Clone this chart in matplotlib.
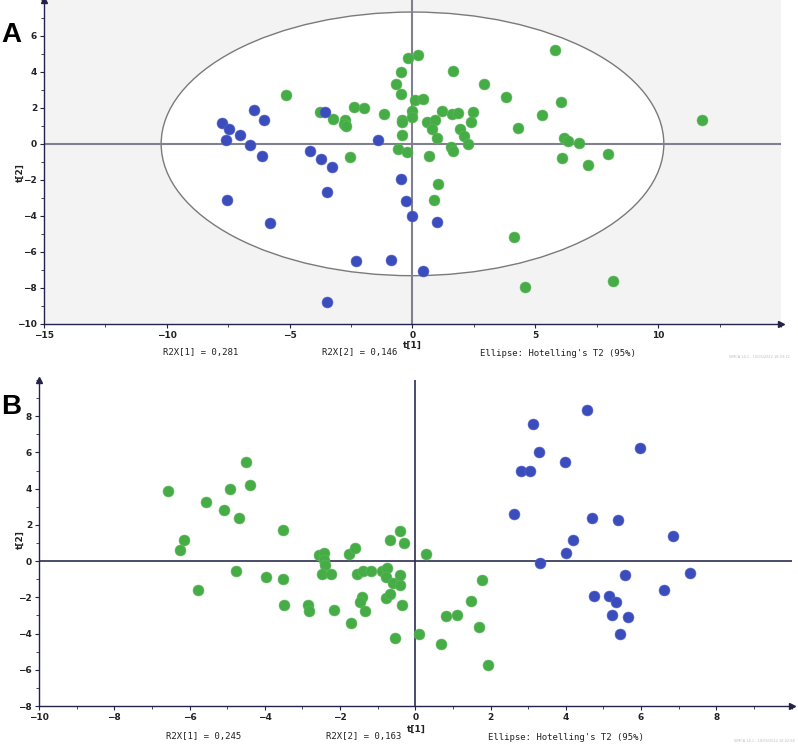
import numpy as np
import matplotlib
matplotlib.use("Agg")
import matplotlib.pyplot as plt
from matplotlib.patches import Ellipse
from matplotlib.ticker import MultipleLocator

# PANEL A scores (t[1], t[2])
a_blue_x = [-7.76, -7.45, -7.60, -7.02, -6.45, -6.04, -6.61, -6.14, -4.17, -3.73, -3.26, -3.58,
            -1.40, -7.54, -5.81, -3.46, -2.29, -0.88, -3.46, -0.45, -0.27, -0.03, 0.98, 0.41]
a_blue_y = [1.17, 0.81, 0.22, 0.50, 1.89, 1.31, -0.09, -0.70, -0.39, -0.85, -1.26, 1.76,
            0.22, -3.13, -4.41, -2.70, -6.50, -6.46, -8.80, -1.96, -3.19, -4.02, -4.33, -7.07]
a_green_x = [-5.15, -3.78, -3.25, -2.73, -2.80, -2.69, -2.38, -1.97, -1.15, -2.55, -0.18, 0.24,
             -0.48, -0.68, -0.45, 0.12, 0.41, -0.01, -0.01, -0.44, -0.41, -0.42, -0.57, -0.23,
             0.67, 1.63, 2.91, 3.79, 4.29, 1.19, 1.60, 1.86, 2.47, 2.40, 0.60, 0.90, 0.81, 0.98,
             1.93, 2.09, 2.25, 1.55, 1.64, 5.80, 6.06, 5.27, 6.15, 6.33, 6.78, 7.97, 6.10, 7.13,
             11.77, 1.03, 0.88, 4.13, 4.60, 8.17]
a_green_y = [2.71, 1.76, 1.41, 1.35, 1.09, 1.02, 2.04, 2.02, 1.65, -0.73, 4.80, 4.96,
             4.02, 3.31, 2.76, 2.43, 2.50, 1.85, 1.50, 1.31, 1.20, 0.48, -0.31, -0.43,
             -0.70, 4.04, 3.33, 2.63, 0.91, 1.80, 1.67, 1.74, 1.76, 1.19, 1.24, 1.33, 0.81, 0.35,
             0.81, 0.44, 0.02, -0.17, -0.42, 5.20, 2.33, 1.59, 0.31, 0.15, 0.04, -0.56, -0.81, -1.15,
             1.31, -2.22, -3.11, -5.19, -7.96, -7.61]

# PANEL B scores
b_blue_x = [4.57, 3.12, 3.29, 5.98, 3.98, 2.81, 3.04, 2.61, 4.69, 5.39, 6.84, 4.20, 4.00, 3.31,
            5.56, 7.30, 6.62, 4.76, 5.14, 5.33, 5.23, 5.65, 5.44]
b_blue_y = [8.37, 7.56, 6.02, 6.24, 5.49, 4.98, 4.98, 2.58, 2.38, 2.29, 1.37, 1.15, 0.47, -0.13,
            -0.77, -0.66, -1.59, -1.92, -1.92, -2.24, -3.00, -3.08, -4.03]
b_green_x = [-6.57, -6.25, -6.16, -5.56, -5.09, -4.92, -4.69, -4.50, -4.39, -3.52, -2.56, -2.42,
             -2.44, -2.41, -1.77, -1.60, -0.66, -0.42, -0.29, -4.77, -5.77, -3.97, -3.52, -3.49,
             -2.86, -2.83, -2.16, -2.49, -2.23, -1.71, -1.55, -1.40, -1.19, -1.43, -1.47, -1.33,
             -0.89, -0.74, -0.77, -0.58, -0.42, -0.78, -0.68, -0.53, -0.40, -0.36, 0.28, 0.10,
             0.67, 0.82, 1.10, 1.49, 1.76, 1.68, 1.94]
b_green_y = [3.86, 0.64, 1.17, 3.26, 2.84, 3.97, 2.40, 5.49, 4.23, 1.72, 0.36, 0.47,
             0.05, -0.24, 0.42, 0.73, 1.17, 1.65, 1.02, -0.57, -1.61, -0.85, -0.97, -2.40,
             -2.44, -2.75, -2.71, -0.70, -0.73, -3.41, -0.73, -0.57, -0.57, -2.00, -2.25, -2.73,
             -0.57, -0.37, -0.90, -1.23, -1.30, -2.02, -1.83, -4.25, -0.79, -2.43, 0.38, -4.02,
             -4.60, -3.02, -2.97, -2.20, -1.04, -3.66, -5.75]

r2x_a = ["0,281", "0,146"]
r2x_b = ["0,245", "0,163"]
ellipse_a = (10.23, 7.33)  # semi axes of Hotelling's T2 ellipse

BLUE = "#3b4dbd"
GREEN = "#46ac46"
AXC = "#23234a"

fig = plt.figure(figsize=(7.98, 7.45), dpi=100)


def style_axes(ax, xmaj, xmin, ymaj, ymin):
    for s in ["top", "right"]:
        ax.spines[s].set_visible(False)
    for s in ["left", "bottom"]:
        ax.spines[s].set_color(AXC)
        ax.spines[s].set_linewidth(1.0)
    ax.xaxis.set_major_locator(MultipleLocator(xmaj))
    ax.xaxis.set_minor_locator(MultipleLocator(xmin))
    ax.yaxis.set_major_locator(MultipleLocator(ymaj))
    ax.yaxis.set_minor_locator(MultipleLocator(ymin))
    ax.tick_params(which="both", colors=AXC, labelcolor="#222222", labelsize=6.5, direction="out", pad=2)
    ax.tick_params(which="major", length=3, width=0.8)
    ax.tick_params(which="minor", length=2, width=0.6)
    # arrow heads
    ax.plot(0, 1, marker="^", color=AXC, ms=4, transform=ax.transAxes, clip_on=False)
    ax.plot(1, 0, marker=">", color=AXC, ms=4, transform=ax.transAxes, clip_on=False)


# ---------- A ----------
axA = fig.add_axes([0.0551, 0.5655, 0.9236, 0.4345])
axA.set_facecolor("#f3f3f3")
axA.set_xlim(-15, 15)
axA.set_ylim(-10, 8)
axA.add_patch(Ellipse((0, 0), 2 * ellipse_a[0], 2 * ellipse_a[1], facecolor="white",
                      edgecolor="#7a7a7a", lw=1.0, zorder=1))
axA.axhline(0, color="#80808e", lw=1.5, zorder=2)
axA.axvline(0, color="#80808e", lw=1.5, zorder=2)
axA.scatter(a_green_x, a_green_y, s=62, color=GREEN, edgecolors="#5fb85f", linewidths=0.4, zorder=3)
axA.scatter(a_blue_x, a_blue_y, s=62, color=BLUE, edgecolors="#5566c8", linewidths=0.4, zorder=4)
style_axes(axA, 5, 2.5, 2, 1)
axA.set_xticks([-15, -10, -5, 0, 5, 10])
axA.set_yticks([-10, -8, -6, -4, -2, 0, 2, 4, 6])
for lab in axA.get_xticklabels() + axA.get_yticklabels():
    lab.set_fontweight("bold")

# ---------- B ----------
axB = fig.add_axes([0.0489, 0.0523, 0.9431, 0.4376])
axB.set_xlim(-10, 10)
axB.set_ylim(-8, 10)
axB.axhline(0, color="#2c2c54", lw=1.2, zorder=2)
axB.axvline(0, color="#2c2c54", lw=1.2, zorder=2)
axB.scatter(b_green_x, b_green_y, s=62, color=GREEN, edgecolors="#5fb85f", linewidths=0.4, zorder=3)
axB.scatter(b_blue_x, b_blue_y, s=62, color=BLUE, edgecolors="#5566c8", linewidths=0.4, zorder=4)
style_axes(axB, 2, 1, 2, 1)
axB.set_xticks([-10, -8, -6, -4, -2, 0, 2, 4, 6, 8])
axB.set_yticks([-8, -6, -4, -2, 0, 2, 4, 6, 8])
for lab in axB.get_xticklabels() + axB.get_yticklabels():
    lab.set_fontweight("bold")

# texts (figure pixel coordinates from the top)
W, H = 798, 745


def ftext(x, y, s, **kw):
    fig.text(x / W, 1 - y / H, s, **kw)


mono = dict(family="DejaVu Sans Mono", fontsize=6.5, color="#222222", va="center")
ftext(163, 353, "R2X[1] = " + r2x_a[0], ha="left", **mono)
ftext(322, 353, "R2X[2] = " + r2x_a[1], ha="left", **mono)
ftext(480, 353, "Ellipse: Hotelling's T2 (95%)", ha="left", **mono)
ftext(166, 737, "R2X[1] = " + r2x_b[0], ha="left", **mono)
ftext(326, 737, "R2X[2] = " + r2x_b[1], ha="left", **mono)
ftext(488, 737, "Ellipse: Hotelling's T2 (95%)", ha="left", **mono)

lab = dict(fontsize=6.5, fontweight="bold", color="#222222", ha="center", va="center")
ftext(412, 345, "t[1]", **lab)
ftext(20, 173, "t[2]", rotation=90, **lab)
ftext(416, 729, "t[1]", **lab)
ftext(20, 540, "t[2]", rotation=90, **lab)

ftext(11, 35, "A", family="Liberation Sans", fontsize=20, fontweight="bold", ha="center", va="center")
ftext(11, 407, "B", family="Liberation Sans", fontsize=20, fontweight="bold", ha="center", va="center")

ftext(790, 357, "SIMCA 14.1 - 10/05/2022 18:03:12", fontsize=2.5, color="#bbbbbb", ha="right", va="center")
ftext(795, 741, "SIMCA 14.1 - 10/05/2022 18:02:58", fontsize=2.5, color="#bbbbbb", ha="right", va="center")

fig.savefig("out.png", dpi=100)
